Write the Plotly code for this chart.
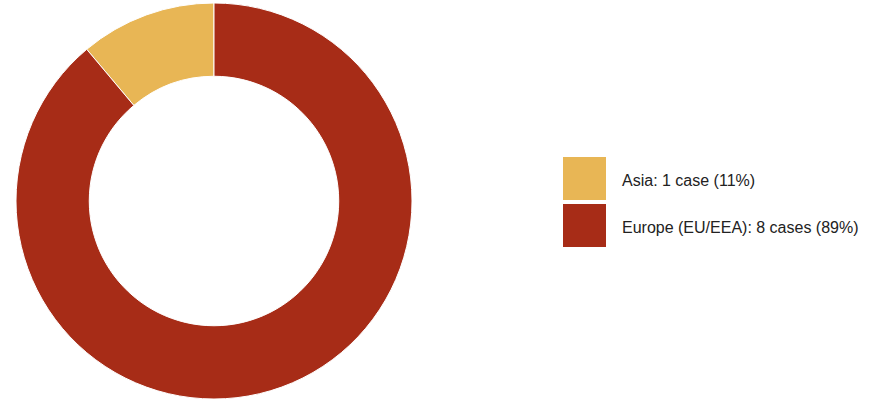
import plotly.graph_objects as go

categories = ["Asia", "Europe (EU/EEA)"]
cases = [1, 8]
colors = ["#E8B655", "#A72C17"]

total = sum(cases)
labels = [f"{c}: {n} case{'s' if n != 1 else ''} ({round(100*n/total)}%)" for c, n in zip(categories, cases)]

W, H = 887, 403
cx, cy, R = 214, 201, 198

fig = go.Figure(go.Pie(
    labels=categories, values=cases, sort=False, direction="clockwise", rotation=-40,
    hole=0.63, textinfo="none", hoverinfo="label+value+percent",
    marker=dict(colors=colors, line=dict(color="white", width=1)),
    domain=dict(x=[(cx - R) / W, (cx + R) / W], y=[max(0, 1 - (cy + R) / H), min(1, 1 - (cy - R) / H)]),
    showlegend=False,
))

# custom legend
sw_x0, sw_x1 = 563, 606
sw_tops = [157, 204]
sw_size = 43
for i, (lab, col) in enumerate(zip(labels, colors)):
    t = sw_tops[i]
    fig.add_shape(type="rect", xref="paper", yref="paper",
                  x0=sw_x0 / W, x1=sw_x1 / W, y0=1 - (t + sw_size) / H, y1=1 - t / H,
                  fillcolor=col, line=dict(width=0))
    fig.add_annotation(xref="paper", yref="paper", x=620 / W, y=1 - (t + sw_size / 2 + 2) / H,
                       text=lab, showarrow=False, xanchor="left", yanchor="middle",
                       font=dict(family="Liberation Sans, Arial, sans-serif", size=16, color="#222222"))

fig.update_layout(width=W, height=H, margin=dict(l=0, r=0, t=0, b=0),
                  paper_bgcolor="white", plot_bgcolor="white")
fig.write_html("out.html", post_script="document.body.style.margin='0';",
               config={"displayModeBar": False})
